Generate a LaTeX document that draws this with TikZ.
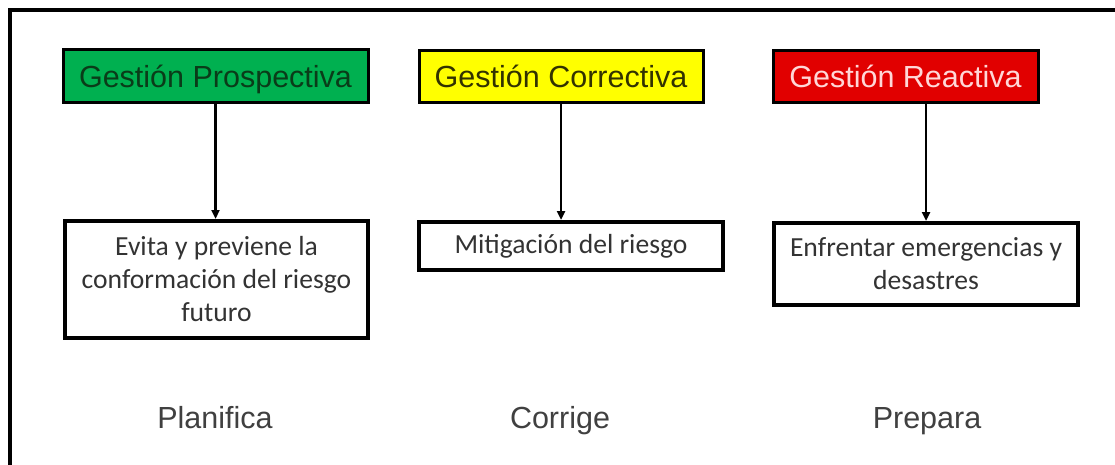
\documentclass[tikz,border=0pt]{standalone}
\usepackage{fontspec}
\setmainfont{Liberation Sans}
\newfontfamily\calibfont{Carlito}
\usetikzlibrary{arrows.meta}
\definecolor{gestgreen}{RGB}{0,176,80}
\definecolor{gestyellow}{RGB}{255,255,0}
\definecolor{gestred}{RGB}{225,0,0}
\tikzset{
  head/.style = {draw, line width=3pt, inner sep=0pt, text height=22pt, text depth=0pt,
                 font=\fontsize{30.5}{36}\selectfont},
  low/.style = {draw, line width=4pt, inner sep=0pt, align=center,
                font=\calibfont\fontsize{27.6}{33}\selectfont, text=black!80},
  result/.style = {anchor=base, font=\fontsize{30.5}{36}\selectfont, text=black!75},
  link/.style = {line width=2.5pt, -{Triangle[length=9pt,width=8pt]}}
}
\begin{document}
\begin{tikzpicture}[x=1pt, y=-1pt]
\useasboundingbox (0,0) rectangle (1115,465);
\fill[white] (0,0) rectangle (1115,465);
\draw[line width=4pt] (10,470) -- (10,10) -- (1120,10); % frame, cut off at right and bottom
% the three kinds of risk management
\node [head, fill=gestgreen, text={rgb,255:red,10;green,60;blue,25}, minimum width=305pt, minimum height=53pt] (prosp) at (215.5,76.5) {Gestión Prospectiva};
\node [head, fill=gestyellow, text={rgb,255:red,50;green,50;blue,0}, minimum width=284pt, minimum height=52pt] (corr) at (561,77) {Gestión Correctiva};
\node [head, fill=gestred, text={rgb,255:red,255;green,215;blue,215}, minimum width=265pt, minimum height=52pt] (react) at (905.5,77) {Gestión Reactiva};
\node [low, minimum width=303pt, minimum height=117pt] (evita) at (216.5,279.5) {Evita y previene la\\conformación del riesgo\\futuro};
\node [low, minimum width=304pt, minimum height=48pt] (mitig) at (571,246) {Mitigación del riesgo};
\node [low, minimum width=304pt, minimum height=82pt] (enfr) at (926,264) {Enfrentar emergencias y\\desastres};
\draw [link] (prosp.south) -- (prosp.south |- evita.north);
\draw [link] (corr.south) -- (corr.south |- mitig.north);
\draw [link] (react.south -| enfr.north) -- (enfr.north);
\node [result] (plan) at (215,428) {Planifica};
\node [result] (corrige) at (560,428) {Corrige};
\node [result] (prep) at (927,428) {Prepara};
\end{tikzpicture}
\end{document}
